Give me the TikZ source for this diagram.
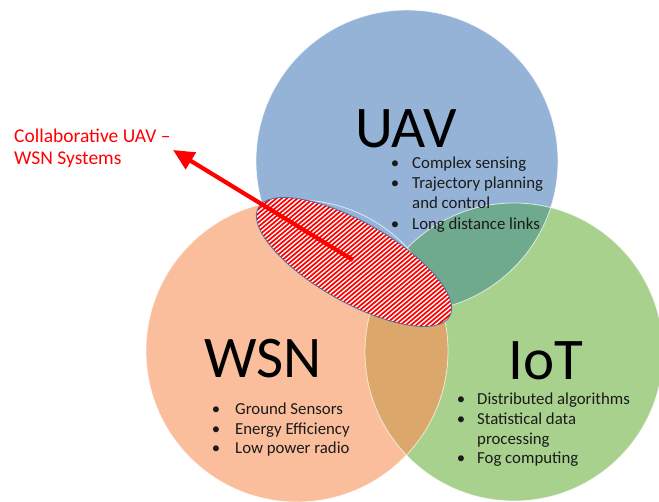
\documentclass[tikz,border=0pt]{standalone}
\usepackage{fontspec}
\setmainfont{Carlito}
\usetikzlibrary{arrows.meta}
\definecolor{uavblue}{HTML}{95B3D7}
\definecolor{wsnorange}{HTML}{FABE9C}
\definecolor{iotgreen}{HTML}{A9D18E}
\definecolor{uaviot}{HTML}{70AA8E}
\definecolor{wsniot}{HTML}{DCA76B}
\definecolor{txt}{HTML}{1A1A1A}
\definecolor{ellborder}{HTML}{4F6FA8}
\tikzset{
  bigtitle/.style={font=\fontsize{59}{62}\selectfont, text=black, inner sep=0pt, anchor=base west},
  itemtext/.style={font=\fontsize{16.8}{20}\selectfont, text=txt, inner sep=0pt, anchor=base west},
  bul/.style={font=\fontsize{16.8}{20}\selectfont, text=txt, inner sep=0pt, anchor=base},
  redlabel/.style={font=\fontsize{19.5}{23}\selectfont, text=red, inner sep=0pt, anchor=base west},
  circleedge/.style={draw=white, line width=0.8pt, draw opacity=0.7},
  stripe/.style={draw=red, line width=1.7pt},
  bigarrow/.style={draw=red, line width=4.2pt, -{Triangle[length=21pt,width=19pt]}}
}
\begin{document}
\begin{tikzpicture}[x=1pt,y=-1pt]
\useasboundingbox (0,0) rectangle (659,502);
\clip (0,0) rectangle (659,502);
\fill[white] (0,0) rectangle (659,502);
% circles
\fill[wsnorange] (297,351) circle [radius=151pt];
\fill[uavblue] (407,161) circle [radius=151pt];
\fill[iotgreen] (514,352) circle [radius=149pt];
\begin{scope}
  \clip (407,161) circle [radius=151pt];
  \fill[uaviot] (514,352) circle [radius=149pt];
\end{scope}
\begin{scope}
  \clip (297,351) circle [radius=151pt];
  \fill[wsniot] (514,352) circle [radius=149pt];
\end{scope}
\path[circleedge] (297,351) circle [radius=151pt];
\path[circleedge] (407,161) circle [radius=151pt];
\path[circleedge] (514,352) circle [radius=149pt];
% titles
\node[bigtitle] (uavt) at (355,148) {UAV};
\node[bigtitle] (wsnt) at (204,378) {WSN};
\node[bigtitle] (iott) at (508,380) {IoT};
% UAV list
\node[bul] (ub1) at (395,169) {\textbullet};
\node[itemtext] (u1) at (412,169) {Complex sensing};
\node[bul] (ub2) at (395,189) {\textbullet};
\node[itemtext] (u2) at (412,189) {Trajectory planning};
\node[itemtext] (u3) at (412,209) {and control};
\node[bul] (ub4) at (395,230) {\textbullet};
\node[itemtext] (u4) at (412,230) {Long distance links};
% WSN list
\node[bul] (wb1) at (216,415) {\textbullet};
\node[itemtext] (w1) at (235,415) {Ground Sensors};
\node[bul] (wb2) at (216,435) {\textbullet};
\node[itemtext] (w2) at (235,435) {Energy Efficiency};
\node[bul] (wb3) at (216,454) {\textbullet};
\node[itemtext] (w3) at (235,454) {Low power radio};
% IoT list
\node[bul] (ib1) at (461,405) {\textbullet};
\node[itemtext] (i1) at (477,405) {Distributed algorithms};
\node[bul] (ib2) at (461,425) {\textbullet};
\node[itemtext] (i2) at (477,425) {Statistical data};
\node[itemtext] (i3) at (477,445) {processing};
\node[bul] (ib4) at (461,464) {\textbullet};
\node[itemtext] (i4) at (477,464) {Fog computing};
% hatched ellipse
\begin{scope}
  \clip[rotate around={-29.6:(354,262)}] (354,262) ellipse [x radius=110pt, y radius=40pt];
  \fill[white] (230,180) rectangle (480,345);
  \foreach \i in {-45,...,45} {
    \path[stripe, shift={(\i*2.186,\i*2.604)}] (254.4,345.6) -- (453.6,178.4);
  }
\end{scope}
\draw[ellborder, line width=0.8pt, rotate around={-29.6:(354,262)}] (354,262) ellipse [x radius=110pt, y radius=40pt];
% label and arrow
\node[redlabel] (lab1) at (14,143) {Collaborative UAV –};
\node[redlabel] (lab2) at (14,165) {WSN Systems};
\coordinate (astart) at (353,260);
\coordinate (atip) at (173,150);
\path[bigarrow] (astart) -- (atip);
\end{tikzpicture}
\end{document}
